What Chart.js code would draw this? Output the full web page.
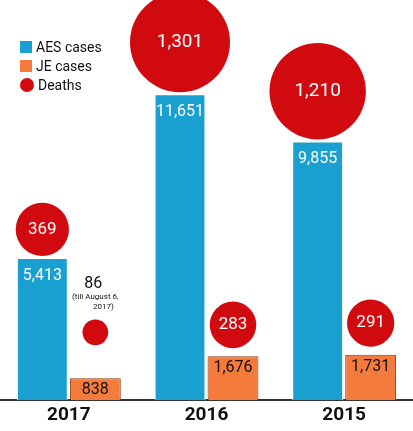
<!DOCTYPE html><html><head><meta charset="utf-8">
<script src="https://cdn.jsdelivr.net/npm/chart.js@4/dist/chart.umd.min.js"></script>
<style>body{margin:0;background:#fff;font-family:Roboto,sans-serif}#w{position:relative;width:413px;height:431px}
.lg{position:absolute;left:20px;font-size:14px;color:#111;display:flex;align-items:center}
.lg i{display:inline-block;width:12px;height:12px;margin-right:4px}</style></head><body>
<div id="w"><canvas id="c" width="413" height="431"></canvas>
<div class="lg" style="top:39px"><i style="background:#1aa0d0"></i>AES cases</div>
<div class="lg" style="top:58px"><i style="background:#f47b3c"></i>JE cases</div>
<div class="lg" style="top:77px"><i style="background:#d10a10;border-radius:50%;width:14px;height:14px"></i>Deaths</div>
</div>
<script>
const years=['2017','2016','2015'];
const aesCases=[5413,11651,9855];
const jeCases=[838,1676,1731];
const aesDeaths=[369,1301,1210];
const jeDeaths=[86,283,291];
const fmt=v=>v.toLocaleString('en-US');
const circles={id:'circles',afterDatasetsDraw(ch){
 const ctx=ch.ctx;
 [[0,aesDeaths,2],[1,jeDeaths,8]].forEach(([di,deaths,gap])=>{
  ch.getDatasetMeta(di).data.forEach((b,i)=>{
   const r=1.386*Math.sqrt(deaths[i]);
   const extra=(di===1&&i===0)?25:0;
   const cy=b.y-r-gap-extra,cx=b.x;
   ctx.beginPath();ctx.arc(cx,cy,r,0,Math.PI*2);ctx.fillStyle='#d10a10';ctx.fill();
   ctx.textAlign='center';ctx.textBaseline='middle';
   if(r>18){ctx.fillStyle='#fff';ctx.font=(r>40?'19px':'17px')+' Roboto';ctx.fillText(fmt(deaths[i]),cx,cy);}
   else{ctx.fillStyle='#111';ctx.font='16px Roboto';ctx.fillText(fmt(deaths[i]),cx-2,cy-48);
    ctx.font='8px Roboto';ctx.fillText('(till August 6,',cx,cy-35);ctx.fillText('2017)',cx+8,cy-25);}
  });
 });
 [[0,aesCases],[1,jeCases]].forEach(([di,vals])=>{
  ch.getDatasetMeta(di).data.forEach((b,i)=>{
   ctx.fillStyle=di===0?'#fff':'#111';ctx.font='16px Roboto';ctx.textAlign='center';ctx.textBaseline='middle';
   ctx.fillText(fmt(vals[i]),b.x,b.y+(di===0?18:12));
  });
 });
}};
new Chart(document.getElementById('c'),{type:'bar',
 data:{labels:years,datasets:[
  {data:aesCases,backgroundColor:'#1aa0d0',borderColor:'#fff',borderWidth:{top:1,left:1,right:1,bottom:0}},
  {data:jeCases,backgroundColor:'#f47b3c',borderColor:'#8a3a10',borderWidth:{top:1,left:1,right:1,bottom:0}}]},
 options:{responsive:false,animation:false,layout:{padding:0},
  categoryPercentage:0.77,barPercentage:0.96,
  plugins:{legend:{display:false},tooltip:{enabled:false}},
  scales:{x:{grid:{display:false,drawTicks:false},border:{color:'#333',width:2},
    ticks:{color:'#111',font:{size:19,weight:'bold',family:'Roboto'},padding:4}},
   y:{display:false,min:0,max:15240}}},
 plugins:[circles]});
</script></body></html>
